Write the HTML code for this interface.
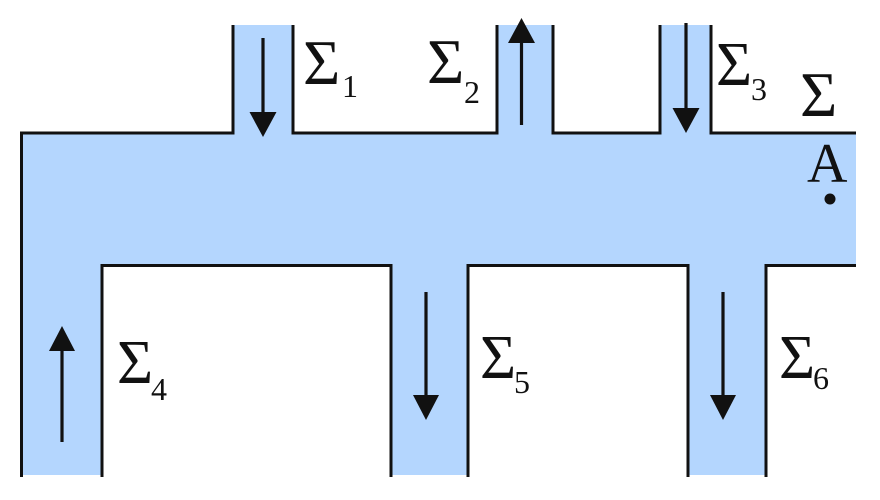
<!DOCTYPE html>
<html>
<head>
<meta charset="utf-8">
<style>
  html, body { margin: 0; padding: 0; background: #ffffff; }
  body { width: 880px; height: 500px; overflow: hidden; }
  svg { display: block; }
  text { font-family: "Liberation Serif", "DejaVu Serif", serif; fill: #111; }
</style>
</head>
<body>
<svg width="880" height="500" viewBox="0 0 880 500" xmlns="http://www.w3.org/2000/svg">
  <!-- fluid fill -->
  <path fill="#b4d6fe" d="
    M21.5,133 L233,133 L233,25 L293,25 L293,133
    L497,133 L497,25 L553,25 L553,133
    L660,133 L660,25 L711,25 L711,133
    L856,133 L856,265.5
    L766,265.5 L766,475 L688,475 L688,265.5
    L468,265.5 L468,475 L391,475 L391,265.5
    L102,265.5 L102,475 L21.5,475 Z"/>

  <!-- walls -->
  <g fill="none" stroke="#111" stroke-width="3" stroke-linejoin="miter">
    <polyline points="21.5,477 21.5,133 233,133 233,25"/>
    <polyline points="293,25 293,133 497,133 497,25"/>
    <polyline points="553,25 553,133 660,133 660,25"/>
    <polyline points="711,25 711,133 856,133"/>
    <polyline points="102,477 102,265.5 391,265.5 391,477"/>
    <polyline points="468,477 468,265.5 688,265.5 688,477"/>
    <polyline points="766,477 766,265.5 856,265.5"/>
  </g>

  <!-- arrows -->
  <g stroke="#111" stroke-width="3.2" fill="none">
    <line x1="263" y1="38" x2="263" y2="115"/>
    <line x1="521.5" y1="125" x2="521.5" y2="40"/>
    <line x1="686" y1="23" x2="686" y2="110"/>
    <line x1="62" y1="442" x2="62" y2="348"/>
    <line x1="426" y1="292" x2="426" y2="398"/>
    <line x1="723" y1="292" x2="723" y2="398"/>
  </g>
  <g fill="#111">
    <polygon points="249.5,112 276.5,112 263,137"/>
    <polygon points="508,43 535,43 521.5,18"/>
    <polygon points="672.5,108 699.5,108 686,133"/>
    <polygon points="49,351 75,351 62,326"/>
    <polygon points="413,395 439,395 426,420"/>
    <polygon points="710,395 736,395 723,420"/>
    <circle cx="830" cy="199" r="5.5"/>
  </g>

  <!-- labels -->
  <text x="303" y="84" font-size="64">Σ</text>
  <text x="342" y="97" font-size="32">1</text>

  <text x="427" y="83" font-size="64">Σ</text>
  <text x="464" y="103" font-size="32">2</text>

  <text x="716" y="85" font-size="62">Σ</text>
  <text x="751" y="100" font-size="32">3</text>

  <text x="800" y="116" font-size="64">Σ</text>

  <text x="807" y="182" font-size="56">A</text>

  <text x="117" y="383" font-size="62">Σ</text>
  <text x="151" y="400" font-size="32">4</text>

  <text x="480" y="378" font-size="62">Σ</text>
  <text x="514" y="393" font-size="32">5</text>

  <text x="779" y="378" font-size="62">Σ</text>
  <text x="813" y="389" font-size="32">6</text>
</svg>
</body>
</html>
